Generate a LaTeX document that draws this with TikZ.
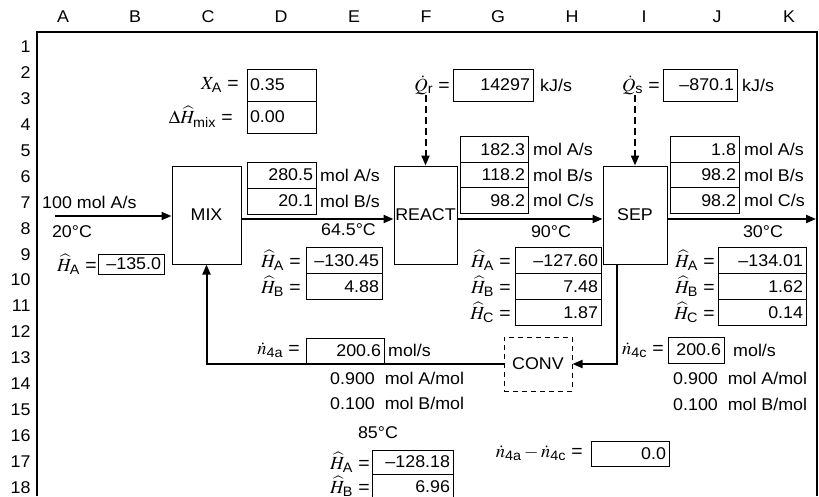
\documentclass[tikz,border=0pt]{standalone}
\usepackage{amsmath}
\usepackage{mathptmx}
\usepackage{fontspec}
\setmainfont{Liberation Sans}[FakeStretch=1.05]
\usetikzlibrary{positioning,arrows.meta}

\begin{document}
\begin{tikzpicture}[x=1pt, y=-1pt, >={Triangle[length=10pt,width=8pt]},
    every node/.style={font=\fontsize{17}{20}\selectfont},
    unit/.style={draw, line width=1pt, minimum height=98pt, inner sep=0pt},
    cell/.style={draw, line width=1pt, outer sep=0pt, inner xsep=3pt, inner ysep=0pt,
      minimum height=26pt, align=right},
    lbl/.style={inner sep=0pt},
    mlbl/.style={inner sep=0pt, font=\fontsize{18.5}{22}\selectfont},
    flow/.style={->, line width=2pt},
    heat/.style={->, line width=2pt, dash pattern=on 7pt off 4pt}]
  \clip (0,0) rectangle (819,496);
  \draw[line width=2.2pt] (37,496) -- (37,32) -- (817,32) -- (817,496);

  \foreach \c/\x in {A/63,B/135,C/208,D/281,E/354,F/426,G/498,H/572,I/644,J/717,K/789}
    \node (col\c) at (\x,17) {\c};
  \foreach \r in {1,...,18}
    \node[anchor=east] (row\r) at (34,{47+(\r-1)*25.9}) {\r};

  \node[unit, minimum width=69pt] (mix) at (206.5,215) {MIX};
  \node[unit, minimum width=63pt] (react) at (425.5,215) {REACT};
  \node[unit, minimum width=64pt] (sep) at (635,215) {SEP};
  \node[unit, minimum width=68pt, minimum height=54pt, dash pattern=on 5pt off 4pt] (conv) at (538,364) {CONV};

  \node[cell, text width=63pt, minimum height=32pt, align=left] (xa) at (281.5,85) {0.35};
  \node[cell, text width=63pt, minimum height=32pt, align=left, below=0pt of xa] (dhmix) {0.00};
  \node[mlbl, left=8pt of xa] (xalab) {$X_\text{A}$ =};
  \node[mlbl, left=14pt of dhmix] (dhmixlab) {$\Delta\widehat{H}_\text{mix}$ =};

  \node[cell, text width=74pt, minimum height=32pt] (qr) at (493,85) {14297};
  \node[mlbl, left=3pt of qr] (qrlab) {$\dot{Q}_\text{r}$ =};
  \node[lbl, right=7pt of qr] (qrunit) {kJ/s};
  \node[cell, text width=68pt, minimum height=32pt] (qs) at (700,85) {–870.1};
  \node[mlbl, left=3pt of qs] (qslab) {$\dot{Q}_\text{s}$ =};
  \node[lbl, right=5pt of qs] (qsunit) {kJ/s};

  \coordinate (feed) at (55,216);
  \node[lbl, anchor=west] (feedtxt) at (42,202) {100 mol A/s};
  \node[lbl] (feedT) at (72,232) {20°C};
  \node[cell, text width=60pt, minimum height=20pt] (h0) at (131,264) {–135.0};
  \node[mlbl, left=1pt of h0] (h0lab) {$\widehat{H}_\text{A}$ =};

  \node[cell, text width=63pt] (n1a) at (281.5,175) {280.5};
  \node[cell, text width=63pt, below=0pt of n1a] (n1b) {20.1};
  \node[lbl, right=4pt of n1a] (n1aunit) {mol A/s};
  \node[lbl, right=4pt of n1b] (n1bunit) {mol B/s};
  \node[lbl] (t1) at (348.5,230) {64.5°C};
  \node[cell, text width=70pt] (h1a) at (344,260.5) {–130.45};
  \node[cell, text width=70pt, below=0pt of h1a] (h1b) {4.88};
  \node[mlbl, left=5pt of h1a] (h1alab) {$\widehat{H}_\text{A}$ =};
  \node[mlbl, left=5pt of h1b] (h1blab) {$\widehat{H}_\text{B}$ =};

  \node[cell, text width=62pt, minimum height=25.5pt] (n2a) at (494,149.5) {182.3};
  \node[cell, text width=62pt, minimum height=25.5pt, below=0pt of n2a] (n2b) {118.2};
  \node[cell, text width=62pt, minimum height=25.5pt, below=0pt of n2b] (n2c) {98.2};
  \node[lbl, right=5pt of n2a] (n2aunit) {mol A/s};
  \node[lbl, right=5pt of n2b] (n2bunit) {mol B/s};
  \node[lbl, right=5pt of n2c] (n2cunit) {mol C/s};
  \node[lbl] (t2) at (551,232) {90°C};
  \node[cell, text width=80pt] (h2a) at (558,260.5) {–127.60};
  \node[cell, text width=80pt, below=0pt of h2a] (h2b) {7.48};
  \node[cell, text width=80pt, below=0pt of h2b] (h2c) {1.87};
  \node[mlbl, left=4pt of h2a] (h2alab) {$\widehat{H}_\text{A}$ =};
  \node[mlbl, left=4pt of h2b] (h2blab) {$\widehat{H}_\text{B}$ =};
  \node[mlbl, left=4pt of h2c] (h2clab) {$\widehat{H}_\text{C}$ =};

  \node[cell, text width=63pt, minimum height=25.5pt] (n3a) at (704.5,149.5) {1.8};
  \node[cell, text width=63pt, minimum height=25.5pt, below=0pt of n3a] (n3b) {98.2};
  \node[cell, text width=63pt, minimum height=25.5pt, below=0pt of n3b] (n3c) {98.2};
  \node[lbl, right=5pt of n3a] (n3aunit) {mol A/s};
  \node[lbl, right=5pt of n3b] (n3bunit) {mol B/s};
  \node[lbl, right=5pt of n3c] (n3cunit) {mol C/s};
  \node[lbl] (t3) at (763,232) {30°C};
  \node[cell, text width=82pt] (h3a) at (762,260.5) {–134.01};
  \node[cell, text width=82pt, below=0pt of h3a] (h3b) {1.62};
  \node[cell, text width=82pt, below=0pt of h3b] (h3c) {0.14};
  \node[mlbl, left=3pt of h3a] (h3alab) {$\widehat{H}_\text{A}$ =};
  \node[mlbl, left=3pt of h3b] (h3blab) {$\widehat{H}_\text{B}$ =};
  \node[mlbl, left=3pt of h3c] (h3clab) {$\widehat{H}_\text{C}$ =};

  \node[cell, text width=72pt, minimum height=25pt] (n4a) at (345,350.5) {200.6};
  \node[mlbl, left=6pt of n4a] (n4alab) {$\dot{n}_\text{4a}$ =};
  \node[lbl, right=4pt of n4a] (n4aunit) {mol/s};
  \node[lbl, anchor=west] (x4aA) at (330,378) {0.900~~mol A/mol};
  \node[lbl, anchor=west] (x4aB) at (330,403) {0.100~~mol B/mol};
  \node[lbl] (t4) at (378,433) {85°C};
  \node[cell, text width=75pt, minimum height=24pt] (h4a) at (412.5,462) {–128.18};
  \node[cell, text width=75pt, minimum height=25pt, below=0pt of h4a] (h4b) {6.96};
  \node[mlbl, left=2pt of h4a] (h4alab) {$\widehat{H}_\text{A}$ =};
  \node[mlbl, left=2pt of h4b] (h4blab) {$\widehat{H}_\text{B}$ =};

  \node[cell, text width=50pt] (n4c) at (696,350) {200.6};
  \node[mlbl, left=4pt of n4c] (n4clab) {$\dot{n}_\text{4c}$ =};
  \node[lbl, right=9pt of n4c] (n4cunit) {mol/s};
  \node[lbl, anchor=west] (x4cA) at (673,378) {0.900~~mol A/mol};
  \node[lbl, anchor=west] (x4cB) at (673,404) {0.100~~mol B/mol};

  \node[cell, text width=72pt, minimum height=25pt] (diff) at (630,453.5) {0.0};
  \node[mlbl, left=8pt of diff] (difflab) {$\dot{n}_\text{4a}-\dot{n}_\text{4c}$ =};

  \coordinate (prod) at (816,219);
  \draw[flow] (feed) -- (feed -| mix.west);
  \draw[flow] ([yshift=-4pt]mix.east) -- ([yshift=-4pt]react.west);
  \draw[flow] ([yshift=-4pt]react.east) -- ([yshift=-4pt]sep.west);
  \draw[flow] ([yshift=-4pt]sep.east) -- (prod);
  \draw[heat] (react.north |- qrlab.south) -- (react.north);
  \draw[heat] (sep.north |- qslab.south) -- (sep.north);
  \draw[flow] ([xshift=-18pt]sep.south) |- (conv.east);
  \draw[flow] (conv.west) -| (mix.south);
\end{tikzpicture}
\end{document}
